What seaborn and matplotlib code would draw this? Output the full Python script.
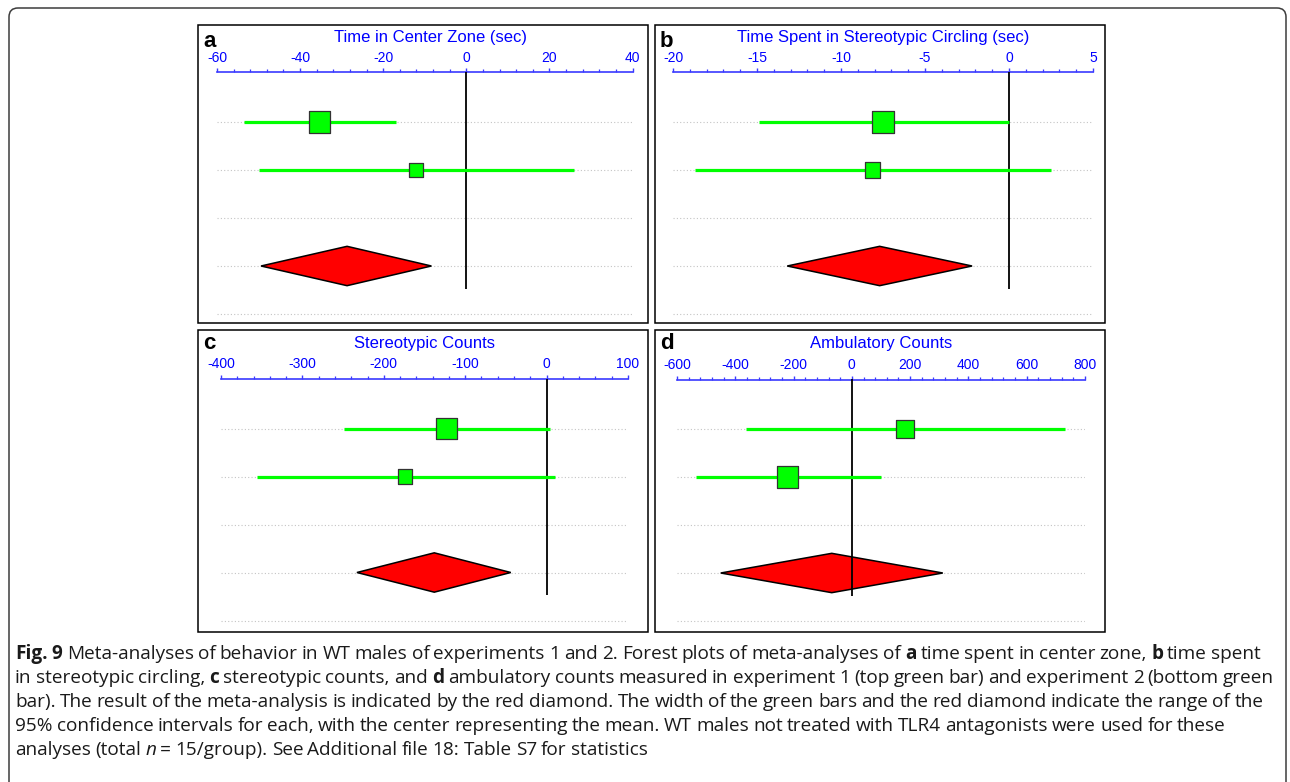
import numpy as np
import pandas as pd
import matplotlib
matplotlib.use("Agg")
import matplotlib.pyplot as plt
import seaborn as sns
from matplotlib.patches import Rectangle, FancyBboxPatch
from matplotlib.ticker import FixedLocator, MultipleLocator
from matplotlib.transforms import IdentityTransform

# ---------------- data ----------------
panel_letters = ["a", "b", "c", "d"]
panel_titles = ["Time in Center Zone (sec)",
                "Time Spent in Stereotypic Circling (sec)",
                "Stereotypic Counts",
                "Ambulatory Counts"]
study_labels = ["Experiment 1", "Experiment 2"]

a_ticks = [-60, -40, -20, 0, 20, 40]
b_ticks = [-20, -15, -10, -5, 0, 5]
c_ticks = [-400, -300, -200, -100, 0, 100]
d_ticks = [-600, -400, -200, 0, 200, 400, 600, 800]
minor_steps = [4, 1, 20, 40]

a_mean = [-35.3, -12.0]
a_low = [-53.5, -49.9]
a_high = [-16.9, 26.0]
a_weight = [70, 30]

b_mean = [-7.5, -8.1]
b_low = [-14.9, -18.7]
b_high = [0.0, 2.5]
b_weight = [67, 33]

c_mean = [-123, -174]
c_low = [-249, -356]
c_high = [4, 10]
c_weight = [68, 32]

d_mean = [182, -220]
d_low = [-364, -535]
d_high = [731, 100]
d_weight = [40, 60]

pooled_mean = [-28.7, -7.7, -138, -69]
pooled_low = [-49.4, -13.2, -233, -450]
pooled_high = [-8.4, -2.2, -44, 312]

caption_lines = [
    [("Fig. 9", "bold", "normal"),
     (" Meta-analyses of behavior in WT males of experiments 1 and 2. Forest plots of meta-analyses of ", "normal", "normal"),
     ("a", "bold", "normal"), (" time spent in center zone, ", "normal", "normal"),
     ("b", "bold", "normal"), (" time spent", "normal", "normal")],
    [("in stereotypic circling, ", "normal", "normal"), ("c", "bold", "normal"),
     (" stereotypic counts, and ", "normal", "normal"), ("d", "bold", "normal"),
     (" ambulatory counts measured in experiment 1 (top green bar) and experiment 2 (bottom green", "normal", "normal")],
    [("bar). The result of the meta-analysis is indicated by the red diamond. The width of the green bars and the red diamond indicate the range of the", "normal", "normal")],
    [("95% confidence intervals for each, with the center representing the mean. WT males not treated with TLR4 antagonists were used for these", "normal", "normal")],
    [("analyses (total ", "normal", "normal"), ("n", "normal", "italic"),
     (" = 15/group). See Additional file 18: Table S7 for statistics", "normal", "normal")],
]

# ---------------- style / layout ----------------
sns.set_theme(style="white")
plt.rcParams["font.family"] = ["Liberation Sans", "DejaVu Sans"]
plt.rcParams["axes.unicode_minus"] = False

W, H = 1290, 782
fig = plt.figure(figsize=(W / 100, H / 100), dpi=100)
fig.patch.set_facecolor("white")

BLUE_TXT = "#0000ff"
BLUE_AX = "#3a3aff"
GREEN = "#00ff00"
RED = "#ff0000"

# outer rounded frame (pixel coordinates, origin bottom-left)
frame = FancyBboxPatch((9, -40), 1286 - 9, (H - 8) + 40,
                       boxstyle="round,pad=0,rounding_size=9",
                       transform=IdentityTransform(), fill=False,
                       edgecolor="#3c3c3c", linewidth=1.1)
fig.patches.append(frame)

panel_boxes = [(198, 25, 648, 323), (655, 25, 1105, 323),
               (198, 330, 648, 632), (655, 330, 1105, 632)]
axis_px = [(217, 632.5, 72.5), (673, 1093, 72.5),
           (221, 628, 379), (677, 1085, 379.5)]
title_x = [431, 883, 425, 881]
title_y = [37.5, 37.5, 343, 343]
letter_base = [47, 47, 349.5, 349.5]

all_ticks = [a_ticks, b_ticks, c_ticks, d_ticks]
all_mean = [a_mean, b_mean, c_mean, d_mean]
all_low = [a_low, b_low, c_low, d_low]
all_high = [a_high, b_high, c_high, d_high]
all_weight = [a_weight, b_weight, c_weight, d_weight]

ROW_PX = 48.0
ROW1_OFF = 49.5

for i in range(4):
    x0, y0, x1, y1 = panel_boxes[i]
    xl, xr, top = axis_px[i]
    bottom = y1 - 1
    ax = fig.add_axes([xl / W, 1 - bottom / H, (xr - xl) / W, (bottom - top) / H])
    ax.set_facecolor("none")
    ticks = all_ticks[i]

    ytop = 1 - ROW1_OFF / ROW_PX
    ybot = 1 + (bottom - top - ROW1_OFF) / ROW_PX

    # dotted row guides
    rows = np.arange(1, 6)
    ax.hlines(rows, ticks[0], ticks[-1], colors="#c4c4c4",
              linestyles=(0, (1, 2)), linewidth=0.8, zorder=1)

    df = pd.DataFrame({"study": study_labels, "row": [1, 2],
                       "mean": all_mean[i], "low": all_low[i],
                       "high": all_high[i], "weight": all_weight[i]})
    wmax = df["weight"].max()
    side_px = 21.5 * np.sqrt(df["weight"] / wmax)
    sizes = (side_px * 72 / 100) ** 2

    # pooled diamond
    pm, pl, ph = pooled_mean[i], pooled_low[i], pooled_high[i]
    ax.fill([pl, pm, ph, pm], [4, 4 - 0.41, 4, 4 + 0.41],
            facecolor=RED, edgecolor="black", linewidth=1.1, zorder=2)

    # zero line
    ax.vlines(0, ytop, 4.47, colors="black", linewidth=1.3, zorder=3)

    # CI lines and squares
    ax.hlines(df["row"], df["low"], df["high"], colors=GREEN,
              linewidth=2.3, zorder=4)
    sns.scatterplot(data=df, x="mean", y="row", marker="s", s=sizes,
                    color=GREEN, edgecolor="#333333", linewidth=0.9,
                    legend=False, ax=ax, zorder=5)

    ax.set_xlim(ticks[0], ticks[-1])
    ax.set_ylim(ybot, ytop)
    ax.set_xlabel("")
    ax.set_ylabel("")
    for side in ["left", "right", "bottom"]:
        ax.spines[side].set_visible(False)
    ax.spines["top"].set_visible(True)
    ax.spines["top"].set_color(BLUE_AX)
    ax.spines["top"].set_linewidth(1.2)
    ax.xaxis.tick_top()
    ax.xaxis.set_major_locator(FixedLocator(ticks))
    ax.xaxis.set_minor_locator(MultipleLocator(minor_steps[i]))
    ax.set_xticklabels([str(t) for t in ticks])
    ax.tick_params(axis="x", which="major", direction="out", length=3,
                   width=1, color=BLUE_AX, labelcolor=BLUE_TXT,
                   labelsize=10, pad=2.5, top=True, bottom=False,
                   labeltop=True, labelbottom=False)
    ax.tick_params(axis="x", which="minor", direction="out", length=2.2,
                   width=0.9, color=BLUE_AX, top=True, bottom=False)
    ax.set_yticks([])
    ax.grid(False)

    # panel border
    fig.patches.append(Rectangle((x0 / W, 1 - y1 / H), (x1 - x0) / W,
                                 (y1 - y0) / H, transform=fig.transFigure,
                                 fill=False, edgecolor="black", linewidth=1.1))
    # title and letter
    fig.text(title_x[i] / W, 1 - title_y[i] / H, panel_titles[i],
             ha="center", va="center", fontsize=12, color=BLUE_TXT)
    fig.text((x0 + 5) / W, 1 - letter_base[i] / H, panel_letters[i],
             ha="left", va="baseline", fontsize=16, fontweight="bold",
             color="black")

# ---------------- caption ----------------
cap_family = ["Liberation Sans Narrow", "Open Sans", "DejaVu Sans"]
renderer = fig.canvas.get_renderer()


def text_w(s, size, weight, style):
    t = fig.text(0, 0, s, fontsize=size, fontweight=weight, fontstyle=style,
                 family=cap_family)
    w = t.get_window_extent(renderer).width
    t.remove()
    return w


def space_w(size, weight, style):
    return text_w("n n", size, weight, style) - text_w("nn", size, weight, style)


def layout(line, size, draw=False, x_start=15, y_base=0, space_scale=0.85):
    x = x_start
    for text, weight, style in line:
        pieces = text.split(" ")
        sp = space_w(size, weight, style) * space_scale
        for k, p in enumerate(pieces):
            if k > 0:
                x += sp
            if p:
                if draw:
                    fig.text(x / W, 1 - y_base / H, p, fontsize=size,
                             fontweight=weight, fontstyle=style,
                             family=cap_family, ha="left", va="baseline",
                             color="#1a1a1a")
                x += text_w(p, size, weight, style)
    return x - x_start


base_size = 10
nat = max(layout(line, base_size) for line in caption_lines)
cap_size = base_size * 1261 / nat
for j, line in enumerate(caption_lines):
    layout(line, cap_size, draw=True, x_start=15, y_base=659 + 24 * j)

fig.savefig("out.png", dpi=100, facecolor="white")
